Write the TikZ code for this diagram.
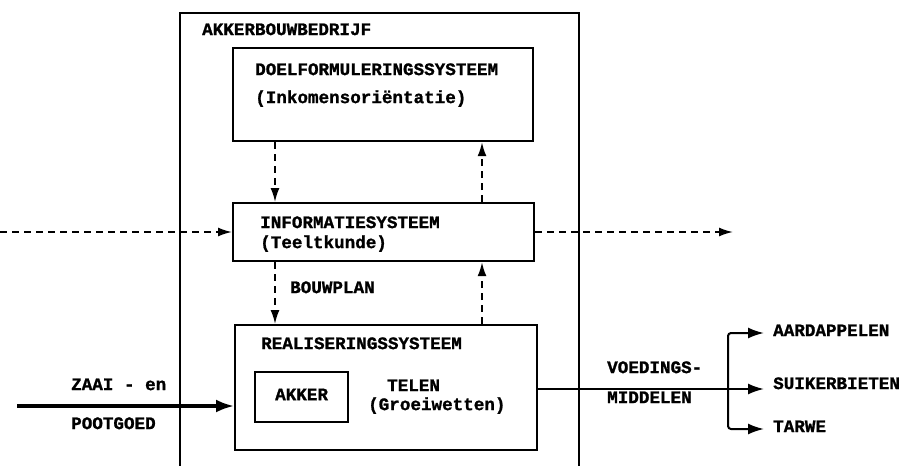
\documentclass[tikz,border=0pt]{standalone}
\usepackage{fontspec}
\usetikzlibrary{arrows.meta}
\newfontfamily\typer{Liberation Mono Bold}[FakeBold=1.2]
\tikzset{
  lbl/.style={font=\typer\fontsize{17.6}{20}\selectfont, inner sep=0pt,
              anchor=west, text height=0.62em, text depth=0pt},
  sysbox/.style={draw, line width=2.2pt, rectangle, anchor=north west, inner sep=0pt},
  dasharrow/.style={line width=1.8pt, dash pattern=on 7pt off 5pt,
              -{Latex[length=14pt,width=9pt]}},
  flowarrow/.style={line width=2pt, -{Latex[length=16pt,width=11pt]}},
}
\begin{document}
\begin{tikzpicture}[x=1pt,y=-1pt]
  \useasboundingbox (0,0) rectangle (903,466);
  \clip (0,0) rectangle (903,466);

  % farm boundary, open towards the bottom
  \draw[line width=2.4pt] (180,475) -- (180,13) -- (579,13) -- (579,475);
  \node[lbl] (farm) at (202,32) {AKKERBOUWBEDRIJF};

  % subsystems
  \node[sysbox, minimum width=300pt, minimum height=93pt] (doel) at (232,47) {};
  \node[lbl] (doelA) at (255,72) {DOELFORMULERINGSSYSTEEM};
  \node[lbl] (doelB) at (255,100) {(Inkomensoriëntatie)};

  \node[sysbox, minimum width=301pt, minimum height=58pt] (info) at (232,202) {};
  \node[lbl] (infoA) at (260,225) {INFORMATIESYSTEEM};
  \node[lbl] (infoB) at (260,245) {(Teeltkunde)};

  \node[sysbox, minimum width=302pt, minimum height=125pt] (real) at (234,324) {};
  \node[lbl] (realA) at (261,346) {REALISERINGSSYSTEEM};
  \node[sysbox, minimum width=93pt, minimum height=50pt] (akker) at (254,371) {};
  \node[lbl, anchor=center] (akkerT) at (akker.center) {AKKER};
  \node[lbl] (telen) at (387,388) {TELEN};
  \node[lbl] (groei) at (368,407) {(Groeiwetten)};

  % columns of the information flows
  \coordinate (xl) at (275,0);
  \coordinate (xr) at (482,0);
  \draw[dasharrow] (doel.south -| xl) -- (info.north -| xl);
  \draw[dasharrow] (info.north -| xr) -- (doel.south -| xr);
  \draw[dasharrow] (info.south -| xl) -- (real.north -| xl);
  \draw[dasharrow] (real.north -| xr) -- (info.south -| xr);
  \node[lbl] (bouwplan) at (290,290) {BOUWPLAN};

  % information exchanged with the environment
  \coordinate (infoIn) at (0,232);
  \coordinate (infoOut) at (733,232);
  \draw[dasharrow] (infoIn) -- (infoIn -| info.west);
  \draw[dasharrow] (infoOut -| info.east) -- (infoOut);

  % material input
  \coordinate (seedIn) at (17,406);
  \draw[line width=3.2pt, -{Latex[length=18pt,width=13pt]}] (seedIn) -- (seedIn -| real.west);
  \node[lbl] (zaai) at (71,387) {ZAAI - en};
  \node[lbl] (poot) at (71,426) {POOTGOED};

  % products
  \coordinate (split) at (728,389);
  \coordinate (tipA) at (764,333);
  \coordinate (tipS) at (764,389);
  \coordinate (tipT) at (764,429);
  \draw[line width=2pt] (split -| real.east) -- (split);
  \draw[flowarrow, rounded corners=3pt] (split) -- (split |- tipA) -- (tipA);
  \draw[flowarrow, rounded corners=3pt] (split) -- (split |- tipT) -- (tipT);
  \draw[flowarrow] (split) -- (tipS);
  \node[lbl] (voed) at (607,370) {VOEDINGS-};
  \node[lbl] (midd) at (607,400) {MIDDELEN};
  \node[lbl] (aard) at (773,333) {AARDAPPELEN};
  \node[lbl] (suik) at (773,386) {SUIKERBIETEN};
  \node[lbl] (tarw) at (773,429) {TARWE};
\end{tikzpicture}
\end{document}
